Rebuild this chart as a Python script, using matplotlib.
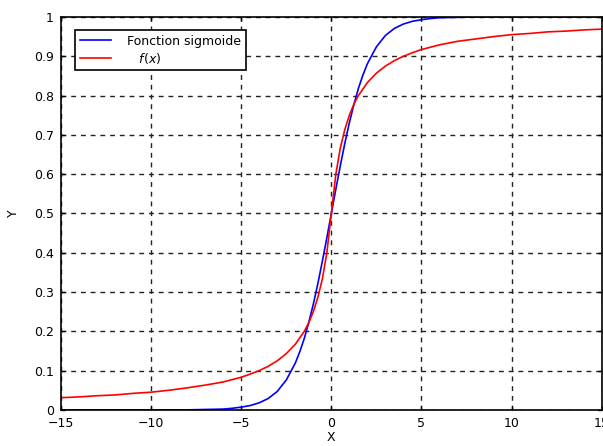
import matplotlib
matplotlib.use("Agg")
import matplotlib.pyplot as plt
import numpy as np

# points (blue = sigmoid, red = f(x))
x_sig = [-15, -12, -10, -8, -7, -6, -5.5, -5, -4.5, -4, -3.5, -3, -2.5, -2, -1.75, -1.5,
         -1.25, -1, -0.75, -0.5, -0.25, 0, 0.25, 0.5, 0.75, 1, 1.25, 1.5, 1.75, 2, 2.5,
         3, 3.5, 4, 4.5, 5, 5.5, 6, 7, 8, 10, 12, 15]
y_sig = [0.000, 0.000, 0.000, 0.000, 0.001, 0.002, 0.004, 0.007, 0.011, 0.018, 0.029,
         0.047, 0.076, 0.119, 0.148, 0.182, 0.223, 0.269, 0.321, 0.378, 0.438, 0.500,
         0.562, 0.622, 0.679, 0.731, 0.777, 0.818, 0.852, 0.881, 0.924, 0.953, 0.971,
         0.982, 0.989, 0.993, 0.996, 0.998, 0.999, 1.000, 1.000, 1.000, 1.000]

x_f = [-15, -14, -13, -12, -11, -10, -9, -8, -7, -6, -5, -4.5, -4, -3.5, -3, -2.5, -2,
       -1.5, -1.25, -1, -0.75, -0.5, -0.25, 0, 0.25, 0.5, 0.75, 1, 1.25, 1.5, 2, 2.5, 3,
       3.5, 4, 4.5, 5, 6, 7, 8, 9, 10, 11, 12, 13, 14, 15]
y_f = [0.031, 0.033, 0.036, 0.038, 0.042, 0.045, 0.050, 0.056, 0.063, 0.071, 0.083,
       0.091, 0.100, 0.111, 0.125, 0.143, 0.167, 0.200, 0.222, 0.250, 0.286, 0.333,
       0.400, 0.500, 0.600, 0.667, 0.714, 0.750, 0.778, 0.800, 0.833, 0.857, 0.875,
       0.889, 0.900, 0.909, 0.917, 0.929, 0.938, 0.944, 0.950, 0.955, 0.958, 0.962,
       0.964, 0.967, 0.969]

x_ticks = [-15, -10, -5, 0, 5, 10, 15]
y_ticks = [0, 0.1, 0.2, 0.3, 0.4, 0.5, 0.6, 0.7, 0.8, 0.9, 1]
y_tick_labels = ["0", "0.1", "0.2", "0.3", "0.4", "0.5", "0.6", "0.7", "0.8", "0.9", "1"]

plt.rcParams.update({
    'font.family': 'DejaVu Sans',
    'font.size': 9,
    'xtick.direction': 'in',
    'ytick.direction': 'in',
})

fig = plt.figure(figsize=(6.03, 4.46), dpi=100)
ax = fig.add_axes([0.101, 0.081, 0.897, 0.881])

ax.plot(x_sig, y_sig, color='#0000ff', lw=1.2, label='Fonction sigmoide')
ax.plot(x_f, y_f, color='#ff0000', lw=1.2, label='   $f(x)$')

ax.set_xlim(-15, 15)
ax.set_ylim(0, 1)
ax.set_xticks(x_ticks)
ax.set_yticks(y_ticks)
ax.set_yticklabels(y_tick_labels)
ax.tick_params(length=3, width=1, pad=5, top=True, right=True)

ax.grid(True, color='#222222', linestyle=(0, (3.5, 3.5)), linewidth=1.0)
for s in ax.spines.values():
    s.set_linewidth(1.2)

ax.set_xlabel('X', labelpad=1)
ax.set_ylabel('Y', labelpad=10)

leg = ax.legend(loc='upper left', bbox_to_anchor=(0.015, 0.982), fancybox=False,
                framealpha=1, edgecolor='black', fontsize=9, handlelength=2.5,
                borderpad=0.35, labelspacing=0.25, handletextpad=1.3)
leg.get_frame().set_linewidth(1.2)

plt.savefig('out.png', dpi=100, facecolor='white')
